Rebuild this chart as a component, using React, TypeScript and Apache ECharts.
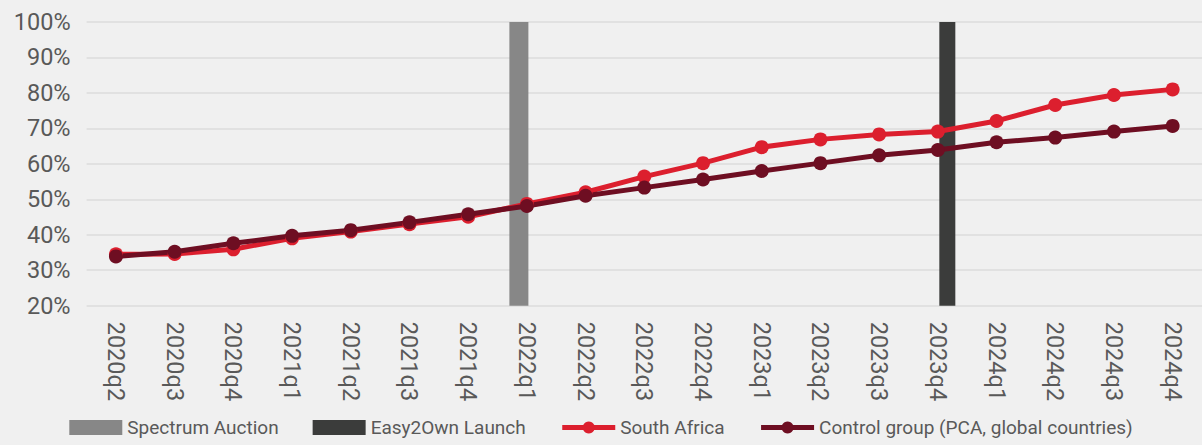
import React, { useEffect, useRef } from "react";
import * as echarts from "echarts";

const categories = [
  "2020q2", "2020q3", "2020q4", "2021q1", "2021q2", "2021q3", "2021q4",
  "2022q1", "2022q2", "2022q3", "2022q4", "2023q1", "2023q2", "2023q3",
  "2023q4", "2024q1", "2024q2", "2024q3", "2024q4",
];

const southAfrica = [
  34.5, 34.6, 35.9, 39.0, 40.9, 43.0, 45.1, 48.7, 52.0, 56.4,
  60.2, 64.7, 66.9, 68.3, 69.1, 72.1, 76.6, 79.4, 81.0,
];

const controlGroup = [
  33.9, 35.2, 37.6, 39.7, 41.3, 43.5, 45.8, 48.1, 51.0, 53.3,
  55.6, 58.0, 60.2, 62.4, 63.9, 66.1, 67.4, 69.1, 70.7,
];

const spectrumAuction = [
  "-", "-", "-", "-", "-", "-", "-", 100, "-", "-",
  "-", "-", "-", "-", "-", "-", "-", "-", "-",
];

const easy2OwnLaunch = [
  "-", "-", "-", "-", "-", "-", "-", "-", "-", "-",
  "-", "-", "-", "-", 100, "-", "-", "-", "-",
];

const yTicks = { min: 20, max: 100, interval: 10 };

export default function App() {
  const ref = useRef<HTMLDivElement>(null);

  useEffect(() => {
    if (!ref.current) return;
    const chart = echarts.init(ref.current, undefined, { renderer: "svg" });
    const font = "Roboto";
    chart.setOption({
      animation: false,
      backgroundColor: "#f0f0f0",
      textStyle: { fontFamily: font },
      grid: { left: 86.6, top: 22, width: 1117.8, height: 283.7, containLabel: false },
      legend: {
        bottom: 3,
        left: "center",
        itemWidth: 53,
        itemHeight: 15,
        itemGap: 34,
        textStyle: { fontSize: 19, color: "#595959", fontFamily: font },
        data: [
          { name: "Spectrum Auction", icon: "rect" },
          { name: "Easy2Own Launch", icon: "rect" },
          { name: "South Africa", lineStyle: { width: 5 } },
          { name: "Control group (PCA, global countries)", lineStyle: { width: 5 } },
        ],
      },
      xAxis: {
        type: "category",
        data: categories,
        boundaryGap: true,
        axisLine: { show: false },
        axisTick: { show: false },
        axisLabel: {
          rotate: -90,
          margin: 16,
          fontSize: 23.5,
          color: "#595959",
          fontFamily: font,
          interval: 0,
        },
      },
      yAxis: {
        type: "value",
        min: yTicks.min,
        max: yTicks.max,
        interval: yTicks.interval,
        axisLine: { show: false },
        axisTick: { show: false },
        axisLabel: {
          formatter: "{value}%",
          fontSize: 23.5,
          color: "#595959",
          margin: 16,
          fontFamily: font,
        },
        splitLine: { lineStyle: { color: "#dcdcdc", width: 1.5 } },
      },
      series: [
        {
          name: "Spectrum Auction",
          type: "bar",
          data: spectrumAuction,
          barWidth: 19,
          barGap: "0%",
          itemStyle: { color: "#878787" },
        },
        {
          name: "Easy2Own Launch",
          type: "bar",
          data: easy2OwnLaunch,
          barWidth: 16,
          barGap: "0%",
          itemStyle: { color: "#3b3c3b" },
        },
        {
          name: "South Africa",
          type: "line",
          data: southAfrica,
          symbol: "circle",
          symbolSize: 14,
          lineStyle: { color: "#dc1f2e", width: 5 },
          itemStyle: { color: "#dc1f2e" },
        },
        {
          name: "Control group (PCA, global countries)",
          type: "line",
          data: controlGroup,
          symbol: "circle",
          symbolSize: 14,
          lineStyle: { color: "#6e0e22", width: 5 },
          itemStyle: { color: "#6e0e22" },
        },
      ],
    });
    return () => chart.dispose();
  }, []);

  return (
    <div
      ref={ref}
      style={{ position: "fixed", left: 0, top: 0, width: 1202, height: 445 }}
    />
  );
}
